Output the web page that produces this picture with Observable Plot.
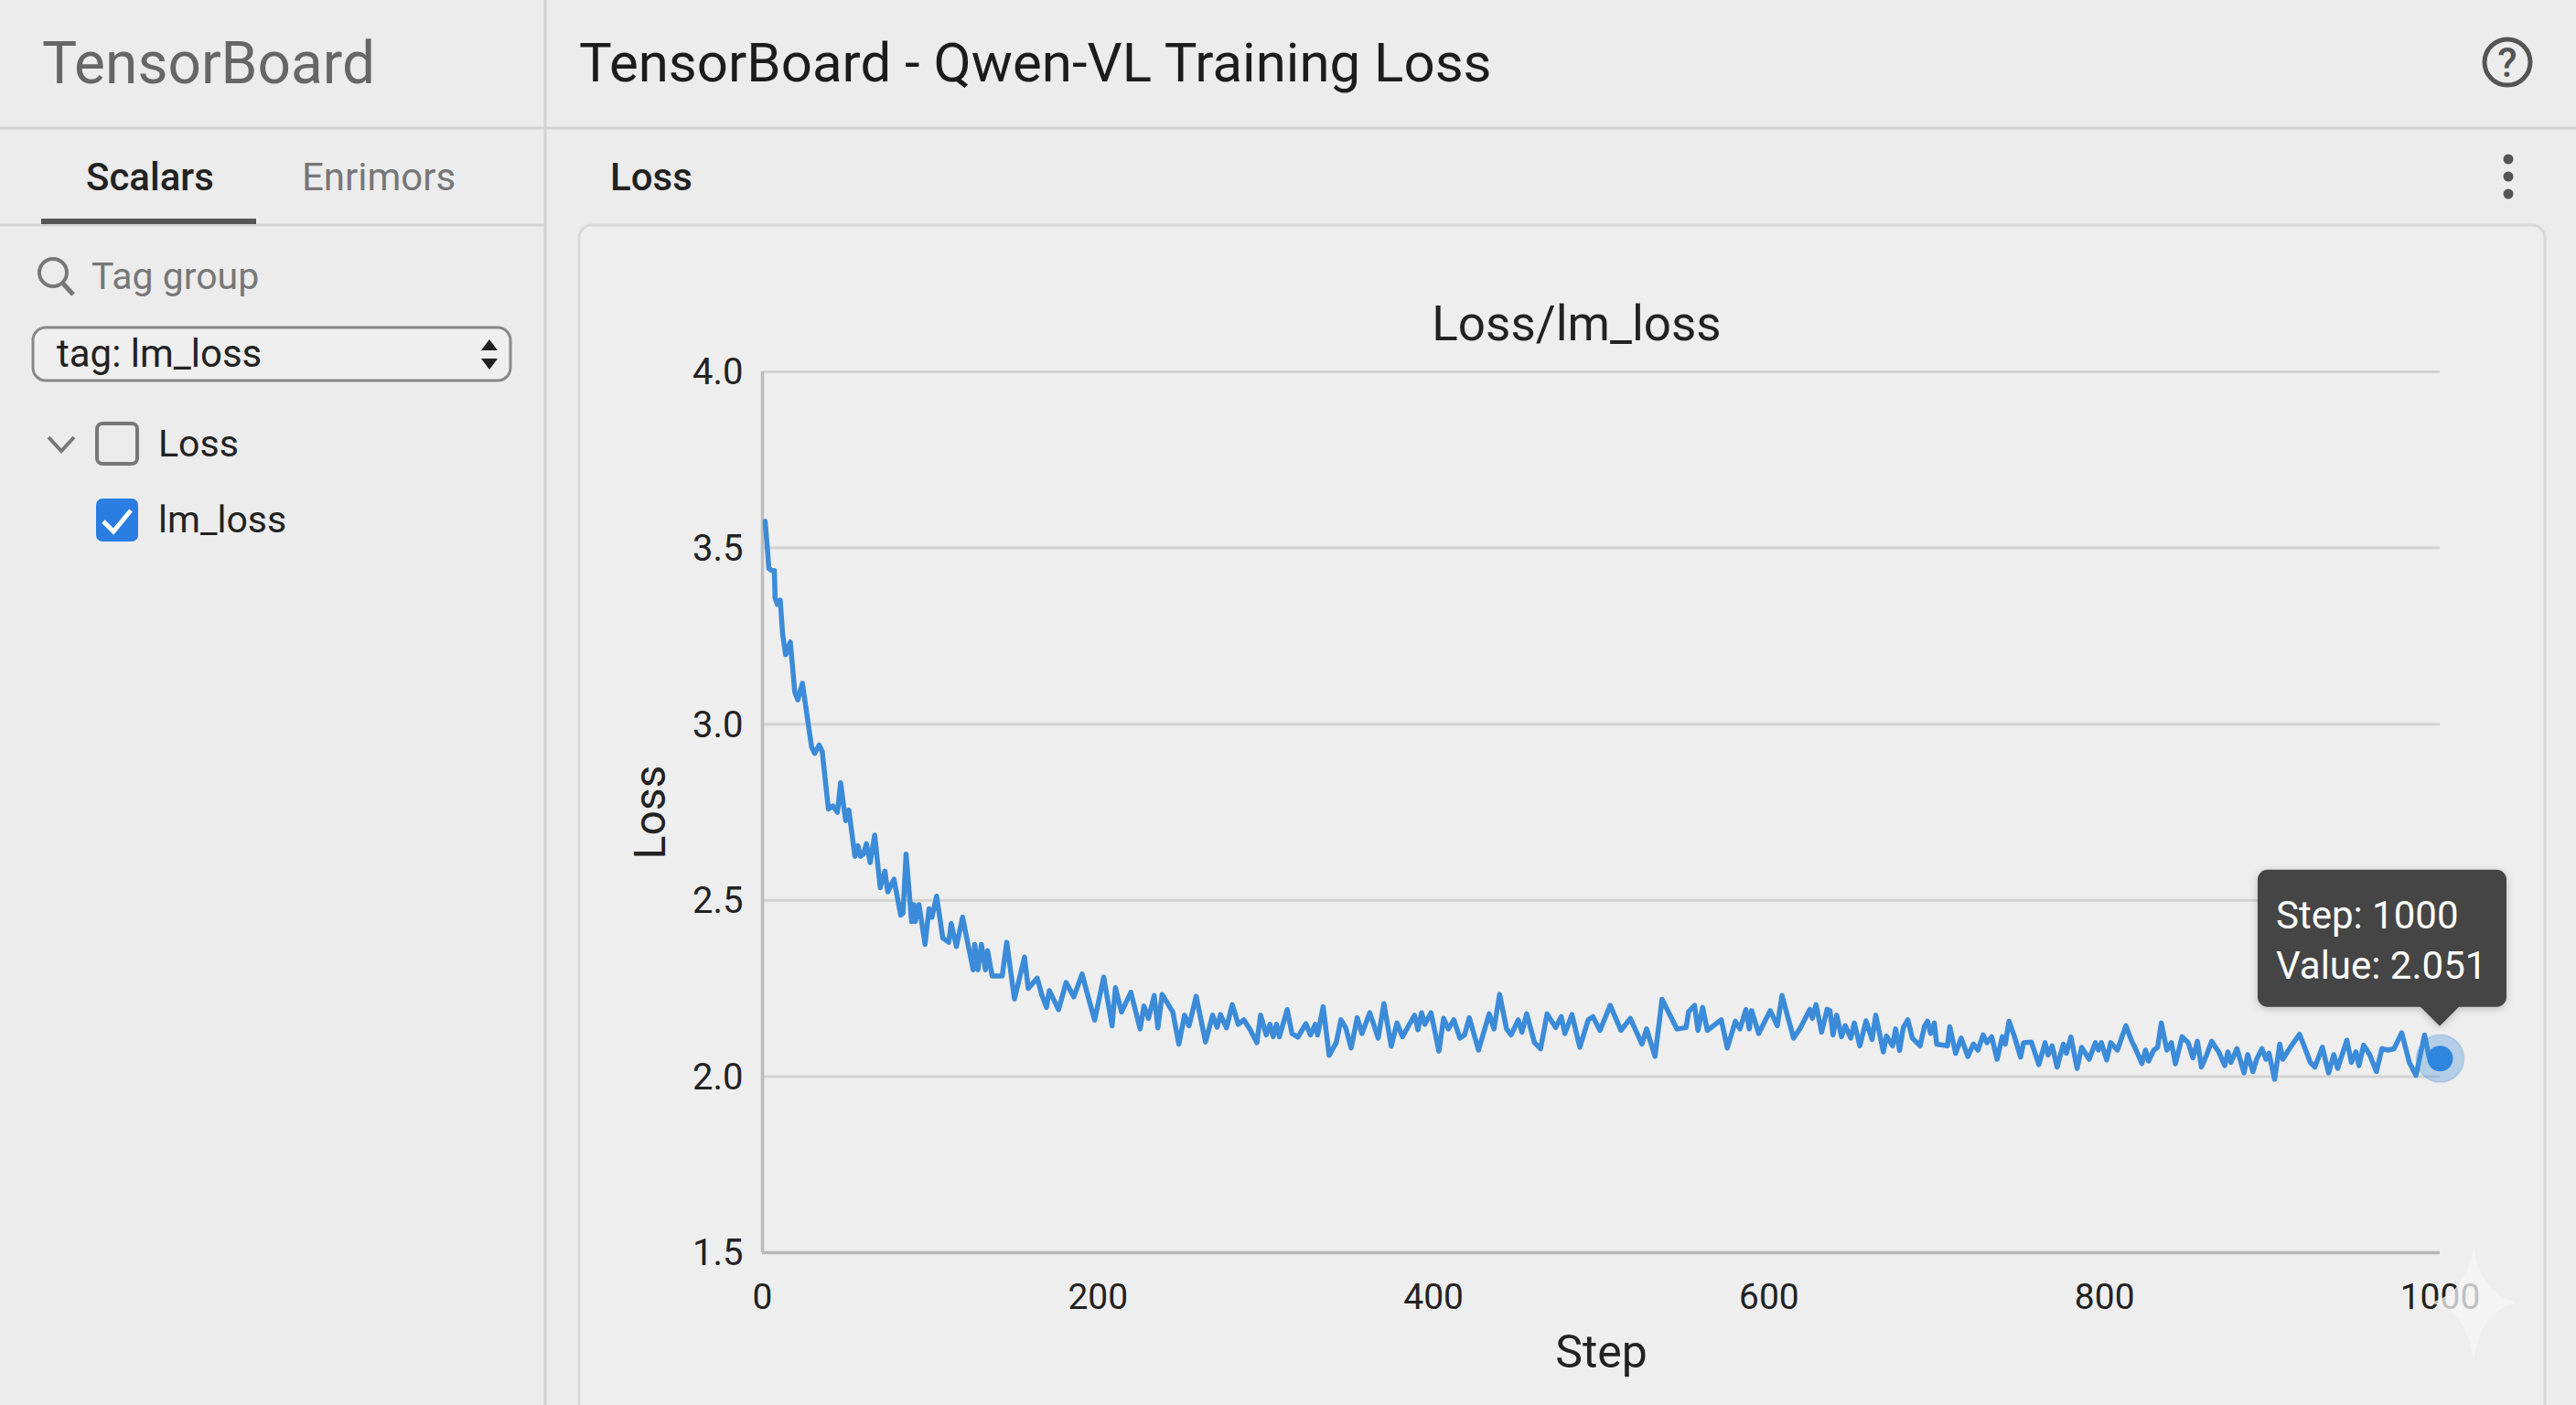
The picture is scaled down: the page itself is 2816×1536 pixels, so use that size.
<!DOCTYPE html>
<html><head><meta charset="utf-8">
<script src="https://cdn.jsdelivr.net/npm/d3@7"></script>
<script src="https://cdn.jsdelivr.net/npm/@observablehq/plot@0.6"></script>
<style>
html,body{margin:0;padding:0;background:#ececec;overflow:hidden}
#root{position:relative;width:2816px;height:1536px;background:#ececec;font-family:Roboto,sans-serif;overflow:hidden}
#root>svg{position:absolute;left:0;top:0;overflow:visible}
#root>svg.chart{left:633px;top:250px}
</style></head><body><div id="root">
<svg class="chrome" width="2816" height="1536" font-family="Roboto">
  <rect x="633" y="246" width="2149" height="1310" rx="14" fill="#eeeeee" stroke="#d8d8d8" stroke-width="3"/>
  <line x1="0" y1="140" x2="2816" y2="140" stroke="#d2d2d2" stroke-width="3"/>
  <line x1="0" y1="246" x2="596" y2="246" stroke="#d2d2d2" stroke-width="3"/>
  <line x1="596" y1="0" x2="596" y2="1536" stroke="#d2d2d2" stroke-width="3"/>
  <text x="46" y="91" font-size="64" fill="#666">TensorBoard</text>
  <text x="633" y="89" font-size="60" fill="#1c1c1c">TensorBoard - Qwen-VL Training Loss</text>
  <circle cx="2741" cy="68" r="25" fill="none" stroke="#555" stroke-width="5"/>
  <text x="2741" y="84" font-size="44" font-weight="500" fill="#555" text-anchor="middle">?</text>
  <text x="94" y="208" font-size="42" font-weight="500" fill="#222">Scalars</text>
  <text x="330" y="208" font-size="42" fill="#777">Enrimors</text>
  <rect x="45" y="239" width="235" height="6" fill="#555"/>
  <text x="667" y="208" font-size="42" font-weight="500" fill="#222">Loss</text>
  <circle cx="2742" cy="174" r="5.5" fill="#555"/><circle cx="2742" cy="193" r="5.5" fill="#555"/><circle cx="2742" cy="212" r="5.5" fill="#555"/>
  <circle cx="58" cy="298" r="15" fill="none" stroke="#777" stroke-width="4"/>
  <line x1="69" y1="310" x2="80" y2="322" stroke="#777" stroke-width="5"/>
  <text x="100" y="316" font-size="41" fill="#777">Tag group</text>
  <rect x="36" y="358" width="522" height="58" rx="14" fill="#efefef" stroke="#888" stroke-width="3"/>
  <text x="62" y="401" font-size="42" fill="#222">tag: lm_loss</text>
  <path d="M535 371 L544 383 L526 383 Z M535 404 L544 392 L526 392 Z" fill="#222"/>
  <path d="M53 478 L67 493 L81 478" fill="none" stroke="#777" stroke-width="4"/>
  <rect x="106" y="463" width="44" height="44" rx="6" fill="none" stroke="#777" stroke-width="4"/>
  <text x="173" y="499" font-size="41" fill="#222">Loss</text>
  <rect x="105" y="545" width="46" height="47" rx="7" fill="#2a7de1"/>
  <path d="M113 570 L124 581 L143 558" fill="none" stroke="#fff" stroke-width="5"/>
  <text x="173" y="582" font-size="41" fill="#222">lm_loss</text>
</svg>
<script>
const steps = [
  1.6,2.9,3.8,5.6,7.1,7.5,8.9,10.6,12,13.8,16.6,19.3,21.1,23.8,29.3,31.1,33.8,35.6,39.3,42,44.7,46.6,48.4,49.6,51.5,55.1,56.9,58.4,60.2,62,64.2,66.9,70.2,73,74.7,78.4,82.4,83.8,85.6,88.9,90.2,91.1,93.3,96.9,99.3,101,103.8,107.5,111,112.5,115.6,119.3,122,125.6,126.5,128.4,130.5,132.9,134.2,136.9,142.9,145.6,150.2,156.2,158.4,163.8,166.5,169.3,171,176.5,181,185.6,190.5,193.8,198,
  203.4,208.4,210.4,214,219.6,225.1,227.4,230.1,233.5,235.7,238.2,244.6,248.2,251.6,254.3,258.5,264.1,268.3,271,273,276.6,280,283.6,286.9,290.5,294.7,296.9,300.3,302.5,304.4,306.4,308.1,312.8,315.6,319.2,323.9,326.7,329.5,330.9,334.2,337.8,342,344.8,347.6,350.9,354.5,357.3,362,367,370.4,374.8,378.2,381.5,388.7,390.7,392.9,394.8,398.5,403.2,406,408.8,412.1,415.7,418.5,421.3,426.8,433.2,436,439.4,443.5,446.3,450.5,452.7,455.5,460.2,463.8,467.7,472.8,476.1,478.3,482.5,487.2,492.2,495,499.2,505.3,511.7,517.3,524.2,527,532,536.2,545.1,550.6,552,555.6,557.6,560.4,563.2,571.5,575.1,579.9,582.6,586.2,588.2,589.6,593.8,600.7,604.9,607.7,614.6,618.8,624.4,625.8,628,631.3,634.6,
  636.3,638.1,640.3,643.2,645.4,648.7,650.8,654.1,657.8,661.4,663.6,668.1,670,673.6,675.4,677.8,680,682.7,685.4,690,692.7,694.5,696.3,698.5,699.9,706.3,707.7,711.2,714.5,718.5,721.8,724.5,727.6,729.9,732.7,735.9,739,740.8,743,746.3,749.9,751.7,756.3,760.8,764.5,766.3,768.7,771.7,775.4,777.2,779.9,783.6,786.3,790.8,794.5,796.3,798.1,801.2,803.6,807.6,812.7,
  816.2,818.4,822.2,824.4,826.2,829.3,831.6,833.8,837.1,839.8,842.2,846.2,849.8,852.6,855.3,857.7,860.7,863.8,868,871.6,873.5,875.3,878.9,883.1,885.3,888.4,890.7,893.8,896.2,898,901.3,904.4,906.2,910.7,916.2,918.9,922.6,925.3,929.8,933.5,936.6,938.9,944.4,947.1,949.8,951.6,954.4,958,962,965.3,968.9,972.5,977.1,981.6,985.6,990.7,993.5,1000
];
const losses = [
  3.576,3.501,3.442,3.436,3.436,3.358,3.34,3.352,3.257,3.197,3.233,3.09,3.069,3.116,2.935,2.917,2.941,2.923,2.759,2.768,2.75,2.834,2.768,2.726,2.756,2.625,2.655,2.625,2.631,2.661,2.607,2.685,2.536,2.583,2.524,2.56,2.458,2.464,2.631,2.44,2.488,2.44,2.488,2.375,2.476,2.452,2.512,2.393,2.381,2.434,2.369,2.452,2.387,2.303,2.375,2.303,2.375,2.303,2.357,2.285,2.285,2.381,2.22,2.339,2.25,2.279,2.232,2.196,2.244,2.19,2.267,2.226,2.291,2.232,2.16,
  2.282,2.144,2.252,2.183,2.239,2.135,2.2,2.165,2.23,2.138,2.233,2.183,2.092,2.174,2.144,2.228,2.098,2.174,2.14,2.176,2.138,2.204,2.148,2.161,2.135,2.096,2.174,2.118,2.148,2.113,2.148,2.113,2.19,2.122,2.112,2.15,2.118,2.148,2.118,2.198,2.06,2.096,2.161,2.139,2.081,2.167,2.122,2.181,2.109,2.207,2.086,2.152,2.113,2.174,2.133,2.181,2.148,2.181,2.072,2.165,2.135,2.161,2.109,2.118,2.167,2.075,2.178,2.135,2.233,2.135,2.118,2.161,2.126,2.178,2.096,2.079,2.178,2.139,2.17,2.122,2.176,2.083,2.161,2.17,2.131,2.202,2.131,2.165,2.092,2.135,2.057,2.219,2.135,2.139,2.184,2.202,2.131,2.196,2.131,2.161,2.081,2.157,2.135,2.19,2.135,2.187,2.122,2.187,2.144,2.23,2.109,2.139,2.191,2.165,2.204,2.126,2.191,
  2.187,2.118,2.174,2.113,2.144,2.109,2.152,2.087,2.158,2.105,2.174,2.07,2.115,2.087,2.135,2.074,2.139,2.161,2.109,2.087,2.144,2.157,2.122,2.152,2.092,2.087,2.141,2.066,2.109,2.057,2.092,2.075,2.118,2.096,2.113,2.049,2.113,2.092,2.157,2.113,2.055,2.096,2.098,2.034,2.096,2.061,2.087,2.027,2.092,2.066,2.112,2.023,2.083,2.049,2.096,2.075,2.096,2.047,2.096,2.075,2.144,
  2.1,2.079,2.037,2.075,2.044,2.075,2.083,2.152,2.075,2.096,2.036,2.113,2.096,2.053,2.1,2.027,2.06,2.1,2.07,2.031,2.07,2.04,2.079,2.01,2.062,2.014,2.05,2.079,2.049,2.066,1.992,2.092,2.049,2.083,2.12,2.087,2.04,2.027,2.083,2.01,2.062,2.023,2.103,2.04,2.07,2.031,2.089,2.062,2.014,2.079,2.075,2.079,2.124,2.04,2.003,2.118,2.053,2.051
];
const yTicks = [1.5, 2.0, 2.5, 3.0, 3.5, 4.0];
const xTicks = [0, 200, 400, 600, 800, 1000];
const gridValues = [2.0, 2.5, 3.0, 3.5, 4.0];
const series = steps.map((s, i) => ({step: s, loss: losses[i]}));
const lastPoint = [{step: 1000, loss: 2.051}];

const chart = Plot.plot({
  width: 2149, height: 1286,
  marginLeft: 200, marginRight: 115, marginTop: 156, marginBottom: 167,
  x: {domain: [0, 1000]},
  y: {domain: [1.5, 4.0]},
  style: {fontFamily: "Roboto", background: "transparent", overflow: "visible"},
  marks: [
    Plot.ruleY(gridValues, {stroke: "#d2d2d2", strokeWidth: 3}),
    Plot.ruleY([1.5], {stroke: "#b8b8b8", strokeWidth: 3.5}),
    Plot.ruleX([0], {stroke: "#bcbcbc", strokeWidth: 3.5}),
    Plot.axisY({ticks: yTicks, tickFormat: d3.format(".1f"), tickSize: 0, tickPadding: 21, fontSize: 40, label: null, color: "#222", dy: 1}),
    Plot.axisX({ticks: xTicks, tickFormat: d => String(d), tickSize: 0, tickPadding: 34, fontSize: 39, label: null, color: "#222"}),
    Plot.line(series, {x: "step", y: "loss", stroke: "#3b8bd9", strokeWidth: 5.5, strokeLinejoin: "round", curve: "linear"}),
    Plot.dot(lastPoint, {x: "step", y: "loss", r: 26, fill: "#3b8bd9", fillOpacity: 0.32, stroke: "#3b8bd9", strokeOpacity: 0.2, strokeWidth: 2}),
    Plot.dot(lastPoint, {x: "step", y: "loss", r: 14, fill: "#2f86de"}),
    Plot.text(["Loss/lm_loss"], {frameAnchor: "top", dx: -27, dy: -72, fontSize: 53, fill: "#222"}),
    Plot.text(["Step"], {frameAnchor: "bottom", dy: 125, fontSize: 50, fill: "#222"}),
    Plot.text(["Loss"], {frameAnchor: "left", textAnchor: "middle", dx: -122, rotate: -90, fontSize: 48, fill: "#222"})
  ]
});
chart.classList.add("chart");
document.getElementById("root").appendChild(chart);

const ns = "http://www.w3.org/2000/svg";
const overlay = document.createElementNS(ns, "svg");
overlay.setAttribute("width", 2816); overlay.setAttribute("height", 1536);
overlay.setAttribute("font-family", "Roboto");
const px = 633 + chart.scale("x").apply(lastPoint[0].step);
const py = 250 + chart.scale("y").apply(lastPoint[0].loss);
overlay.innerHTML = `
  <defs><filter id="sh" x="-10%" y="-10%" width="120%" height="130%"><feDropShadow dx="0" dy="2" stdDeviation="4" flood-color="#000" flood-opacity=".22"/></filter></defs>
  <g filter="url(#sh)">
    <rect x="${px-199}" y="${py-206}" width="272" height="150" rx="11" fill="#444"/>
    <path d="M${px-22} ${py-57} L${px} ${py-35} L${px+22} ${py-57} Z" fill="#444"/>
  </g>
  <text x="${px-179}" y="${py-142}" font-size="42" fill="#fff">Step: 1000</text>
  <text x="${px-179}" y="${py-87}" font-size="42" fill="#fff">Value: 2.051</text>
  <path d="M2704 1361 Q2711 1414 2751 1424 Q2711 1434 2704 1487 Q2697 1434 2657 1424 Q2697 1414 2704 1361 Z" fill="#f6f6f6" fill-opacity=".75"/>`;
document.getElementById("root").appendChild(overlay);
</script>
</div></body></html>
